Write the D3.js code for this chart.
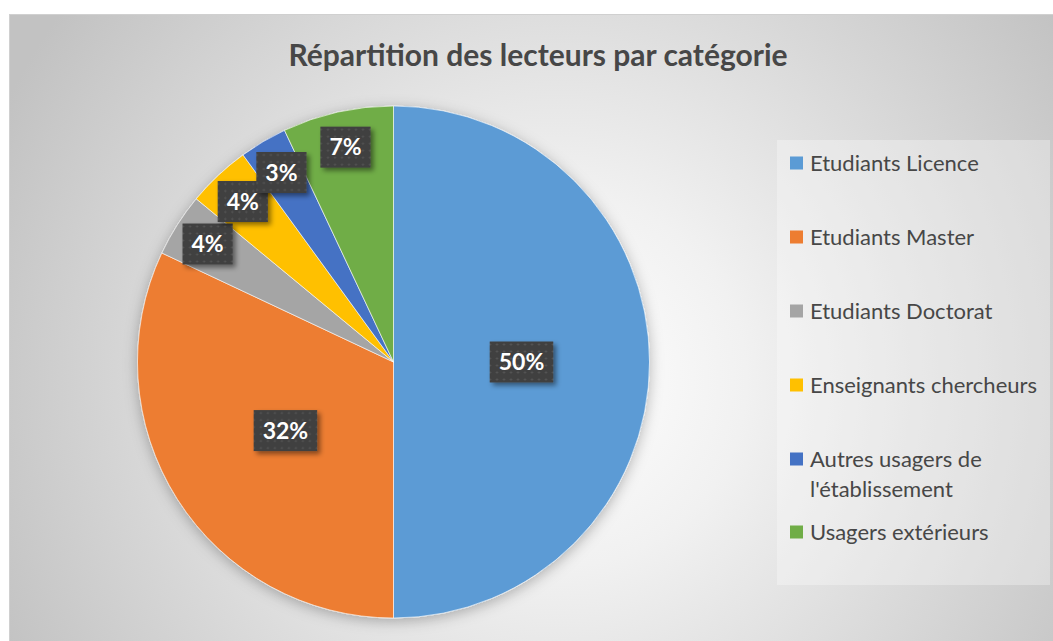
<!DOCTYPE html>
<html>
<head>
<meta charset="utf-8">
<script src="https://cdn.jsdelivr.net/npm/d3@7"></script>
<style>
  html, body { margin: 0; padding: 0; background: #ffffff; }
  svg { display: block; }
  text { font-family: Lato, "Open Sans", "Noto Sans", sans-serif; }
</style>
</head>
<body>
<svg id="chart" width="1053" height="641"></svg>
<script>
// ---- data ----
const title = "Répartition des lecteurs par catégorie";
const categories = [
  "Etudiants Licence",
  "Etudiants Master",
  "Etudiants Doctorat",
  "Enseignants chercheurs",
  "Autres usagers de l'établissement",
  "Usagers extérieurs"
];
const legendLines = [
  ["Etudiants Licence"],
  ["Etudiants Master"],
  ["Etudiants Doctorat"],
  ["Enseignants chercheurs"],
  ["Autres usagers de", "l'établissement"],
  ["Usagers extérieurs"]
];
const values = [50, 32, 4, 4, 3, 7];
const colors = ["#5B9BD5", "#ED7D31", "#A5A5A5", "#FFC000", "#4472C4", "#70AD47"];

// ---- layout ----
const W = 1053, H = 641;
const svg = d3.select("#chart");
const defs = svg.append("defs");

const bg = defs.append("radialGradient").attr("id", "bg")
  .attr("gradientUnits", "userSpaceOnUse")
  .attr("cx", 560).attr("cy", 380).attr("r", 620);
bg.append("stop").attr("offset", "0").attr("stop-color", "#ffffff");
bg.append("stop").attr("offset", "0.3").attr("stop-color", "#f1f1f1");
bg.append("stop").attr("offset", "1").attr("stop-color", "#c2c2c2");

const pieShadow = defs.append("filter").attr("id", "pieShadow")
  .attr("x", "-20%").attr("y", "-20%").attr("width", "140%").attr("height", "140%");
pieShadow.append("feDropShadow").attr("dx", 0).attr("dy", 3)
  .attr("stdDeviation", 7).attr("flood-color", "#000").attr("flood-opacity", 0.28);

const lblShadow = defs.append("filter").attr("id", "lblShadow")
  .attr("x", "-30%").attr("y", "-30%").attr("width", "170%").attr("height", "170%");
lblShadow.append("feDropShadow").attr("dx", 3).attr("dy", 3)
  .attr("stdDeviation", 2.5).attr("flood-color", "#000").attr("flood-opacity", 0.45);

const dots = defs.append("pattern").attr("id", "dots")
  .attr("patternUnits", "userSpaceOnUse").attr("width", 7).attr("height", 7);
dots.append("rect").attr("width", 7).attr("height", 7).attr("fill", "#3f3f3f");
dots.append("circle").attr("cx", 3.5).attr("cy", 3.5).attr("r", 1.1).attr("fill", "#575757");

// chart area
svg.append("rect")
  .attr("x", 9.5).attr("y", 14.5).attr("width", W - 9).attr("height", H - 13)
  .attr("fill", "url(#bg)").attr("stroke", "#d0d0d0").attr("stroke-width", 1);

// title
svg.append("text")
  .attr("x", 538).attr("y", 66)
  .attr("text-anchor", "middle")
  .attr("font-size", 30).attr("font-weight", 700)
  .attr("fill", "#474747")
  .text(title);

// pie
const cx = 393.5, cy = 362, R = 256;
const pie = d3.pie().sort(null).value(d => d)(values);
const arc = d3.arc().innerRadius(0).outerRadius(R);
const g = svg.append("g").attr("transform", `translate(${cx},${cy})`);

g.append("g").attr("filter", "url(#pieShadow)")
  .selectAll("path").data(pie).join("path")
  .attr("d", arc)
  .attr("fill", (d, i) => colors[i])
  .attr("stroke", "#ffffff").attr("stroke-width", 0.6);

// labels
const total = d3.sum(values);
const lblG = g.append("g");
pie.forEach((d, i) => {
  const share = d.data / total;
  const rr = share >= 0.2 ? R * 0.5 : R * 0.86;
  const a = (d.startAngle + d.endAngle) / 2;
  const x = Math.sin(a) * rr, y = -Math.cos(a) * rr;
  const txt = Math.round(share * 100) + "%";
  const lg = lblG.append("g").attr("transform", `translate(${x},${y})`);
  const rect = lg.append("rect").attr("fill", "url(#dots)").attr("filter", "url(#lblShadow)");
  const t = lg.append("text")
    .attr("text-anchor", "middle").attr("dy", "0.36em")
    .attr("font-size", 23).attr("font-weight", 700).attr("fill", "#ffffff")
    .text(txt);
  const w = t.node().getComputedTextLength() + 18;
  rect.attr("x", -w / 2).attr("y", -20.5).attr("width", w).attr("height", 41);
});

// legend
const lx = 777, ly = 140, lw = 273, lh = 445;
svg.append("rect").attr("x", lx).attr("y", ly).attr("width", lw).attr("height", lh)
  .attr("fill", "#ffffff").attr("fill-opacity", 0.3);

const rowStep = 74, lineH = 30;
let yy = 163;
const legG = svg.append("g");
legendLines.forEach((lines, i) => {
  const row = legG.append("g").attr("transform", `translate(790,${yy})`);
  row.append("rect").attr("x", 0).attr("y", -6.5).attr("width", 13).attr("height", 13)
    .attr("fill", colors[i]);
  lines.forEach((ln, j) => {
    row.append("text").attr("x", 20).attr("y", j * lineH).attr("dy", "0.35em")
      .attr("font-size", 22).attr("fill", "#474747").text(ln);
  });
  yy += rowStep;
  if (i === 4) yy = 532;
});
</script>
</body>
</html>
